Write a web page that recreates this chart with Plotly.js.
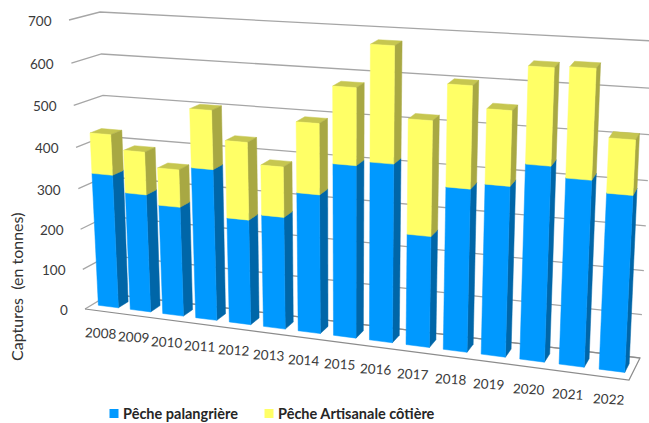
<!DOCTYPE html>
<html><head><meta charset="utf-8">
<script src="https://cdn.plot.ly/plotly-3.0.1.min.js"></script>
<style>html,body{margin:0;padding:0;background:#fff}#c{width:649px;height:423px}</style>
</head><body><div id="c"></div>
<script>
const years = ['2008','2009','2010','2011','2012','2013','2014','2015','2016','2017','2018','2019','2020','2021','2022'];
const palangriere = [330,290,268,366,254,269,330,405,416,259,375,389,441,418,393];
const artisanale = [98,103,90,139,183,118,164,176,263,261,228,166,212,239,119];
const yTicks = [0,100,200,300,400,500,600,700];
const seriesNames = ['Pêche palangrière','Pêche Artisanale côtière'];
const frontColors = ['#0099FF','#FFFF66'];
const sideColors = ['#0066A8','#A8A843'];
const topColors = ['#0079C8','#C6C650'];

// perspective box corners of the 3D chart, in screen space
const FLb=[85,309],FRb=[629,380],BLb=[110,294],BRb=[640,358];
const FLt=[69,20],FRt=[645,55],BLt=[100,12],BRt=[654,41];
const N=years.length, K=0.14, KV=0.05, GAP=0.185, Z0=0.3, Z1=0.7, VMAX=700;
const lerp=(a,b,t)=>[a[0]+(b[0]-a[0])*t,a[1]+(b[1]-a[1])*t];
function proj(u,z,v){
  const s=u/N, t=s/(1+K*(1-s)), r=v/VMAX, h=r/(1+KV*(1-r));
  const fb=lerp(FLb,FRb,t), bb=lerp(BLb,BRb,t), ft=lerp(FLt,FRt,t), bt=lerp(BLt,BRt,t);
  return lerp(lerp(fb,bb,z),lerp(ft,bt,z),h);
}
function poly(pts,color){
  const c=pts.concat([pts[0]]);
  return {x:c.map(p=>p[0]),y:c.map(p=>p[1]),mode:'lines',fill:'toself',fillcolor:color,
    line:{color:color,width:0.5},hoverinfo:'skip',showlegend:false};
}
function path(pts,color,w){
  return {x:pts.map(p=>p[0]),y:pts.map(p=>p[1]),mode:'lines',line:{color:color,width:w},hoverinfo:'skip',showlegend:false};
}
const traces=[];
yTicks.forEach(v=>{
  traces.push(path([proj(0,0,v),proj(0,1,v),proj(N,1,v)],'#A6A6A6',1.3));
});
traces.push(path([proj(0,0,0),proj(N,0,0),proj(N,1,0),proj(0,1,0)],'#8C8C8C',1.2));
years.forEach((y,i)=>{
  const a=i+GAP,b=i+1-GAP;
  [palangriere[i],artisanale[i]].reduce((base,val,k)=>{
    const top=base+val;
    traces.push(poly([proj(a,Z0,top),proj(b,Z0,top),proj(b,Z1,top),proj(a,Z1,top)],topColors[k]));
    traces.push(poly([proj(b,Z0,base),proj(b,Z1,base),proj(b,Z1,top),proj(b,Z0,top)],sideColors[k]));
    traces.push(poly([proj(a,Z0,base),proj(b,Z0,base),proj(b,Z0,top),proj(a,Z0,top)],frontColors[k]));
    return top;
  },0);
});
const ann=[];
// legend row
const legendSwatchX=[114,269], legendTextX=[123,278], legendY=413.5;
traces.push({x:legendSwatchX,y:[legendY,legendY],mode:'markers',
  marker:{symbol:'square',size:9,color:frontColors,line:{width:0}},hoverinfo:'skip',showlegend:false});
seriesNames.forEach((n,k)=>ann.push({x:legendTextX[k],y:legendY,xref:'x',yref:'y',text:'<b>'+n+'</b>',showarrow:false,
  xanchor:'left',yanchor:'middle',xshift:-2,font:{family:'Lato',size:14.5,color:'#262626'}}));

yTicks.forEach(v=>{
  const p=proj(0,0,v);
  ann.push({x:p[0]-15,y:p[1]+1,xref:'x',yref:'y',text:String(v),showarrow:false,xanchor:'right',yanchor:'middle',
    font:{family:'Lato',size:13.5,color:'#3A3A3A'}});
});
years.forEach((y,i)=>{
  const p=proj(i+0.5,0,0);
  ann.push({x:p[0],y:p[1]+22,xref:'x',yref:'y',text:y,showarrow:false,xanchor:'center',yanchor:'middle',textangle:3,
    font:{family:'Lato',size:13.5,color:'#3A3A3A'}});
});
ann.push({x:16,y:287,xref:'x',yref:'y',text:'Captures\u00A0 (en tonnes)',showarrow:false,textangle:-90,xanchor:'center',yanchor:'middle',
  font:{family:'Lato',size:16,color:'#333333'}});

const axis=(r)=>({range:r,visible:false,fixedrange:true});
Plotly.newPlot('c',traces,{
  width:649,height:423,margin:{l:0,r:0,t:0,b:0},paper_bgcolor:'#fff',plot_bgcolor:'#fff',
  xaxis:axis([0,649]),yaxis:axis([423,0]),annotations:ann,showlegend:false
},{displayModeBar:false,staticPlot:true});
</script></body></html>
